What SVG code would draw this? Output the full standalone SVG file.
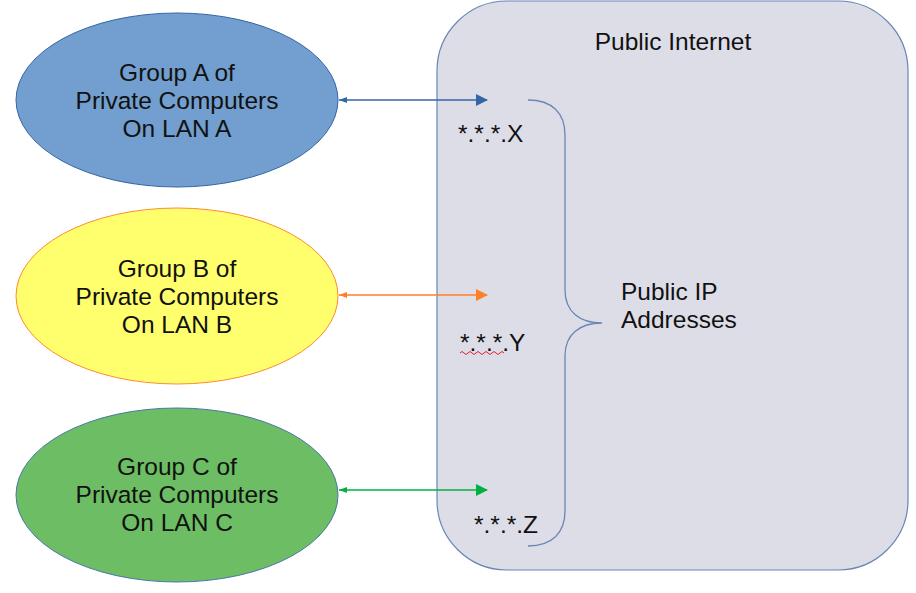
<svg xmlns="http://www.w3.org/2000/svg" width="916" height="593" viewBox="0 0 916 593">
<defs>
<style>
text{font-family:"Liberation Sans",Arial,sans-serif;font-size:24.5px;fill:#111}
.c{text-anchor:middle}
.conn{stroke-width:1.5;fill:none}
</style>
<marker id="hA" viewBox="0 0 12 12" refX="11" refY="6" markerWidth="12" markerHeight="12" markerUnits="userSpaceOnUse" orient="auto"><path d="M0,0 L12,6 L0,12 z" fill="#3465a4"/></marker>
<marker id="tA" viewBox="0 0 8 6" refX="0" refY="3" markerWidth="8" markerHeight="6" markerUnits="userSpaceOnUse" orient="auto"><path d="M0,3 L8,0 L8,6 z" fill="#3465a4"/></marker>
<marker id="hB" viewBox="0 0 12 12" refX="11" refY="6" markerWidth="12" markerHeight="12" markerUnits="userSpaceOnUse" orient="auto"><path d="M0,0 L12,6 L0,12 z" fill="#ff7f27"/></marker>
<marker id="tB" viewBox="0 0 8 6" refX="0" refY="3" markerWidth="8" markerHeight="6" markerUnits="userSpaceOnUse" orient="auto"><path d="M0,3 L8,0 L8,6 z" fill="#ff7f27"/></marker>
<marker id="hC" viewBox="0 0 12 12" refX="11" refY="6" markerWidth="12" markerHeight="12" markerUnits="userSpaceOnUse" orient="auto"><path d="M0,0 L12,6 L0,12 z" fill="#00b043"/></marker>
<marker id="tC" viewBox="0 0 8 6" refX="0" refY="3" markerWidth="8" markerHeight="6" markerUnits="userSpaceOnUse" orient="auto"><path d="M0,3 L8,0 L8,6 z" fill="#00b043"/></marker>
</defs>
<rect width="916" height="593" fill="#ffffff"/>
<g id="internet">
<rect x="437" y="1" width="471" height="569" rx="70" ry="70" fill="#dddde8" stroke="#6a86b4" stroke-width="1.2"/>
<text class="c" x="673" y="50">Public Internet</text>
</g>
<g id="groupA">
<ellipse cx="177" cy="100" rx="161" ry="87" fill="#729fcf" stroke="#3465a4" stroke-width="1"/>
<text class="c" x="177" y="81">Group A of</text>
<text class="c" x="177" y="109">Private Computers</text>
<text class="c" x="177" y="137">On LAN A</text>
</g>
<g id="groupB">
<ellipse cx="177" cy="296" rx="161" ry="88" fill="#ffff6d" stroke="#ff8a30" stroke-width="1"/>
<text class="c" x="177" y="277">Group B of</text>
<text class="c" x="177" y="305">Private Computers</text>
<text class="c" x="177" y="333">On LAN B</text>
</g>
<g id="groupC">
<ellipse cx="177" cy="495" rx="161" ry="87" fill="#6cbd63" stroke="#4a76a8" stroke-width="1"/>
<text class="c" x="177" y="475">Group C of</text>
<text class="c" x="177" y="503">Private Computers</text>
<text class="c" x="177" y="531">On LAN C</text>
</g>
<g id="addresses">
<text x="458" y="142">*.*.*.X</text>
<text x="460" y="351">*.*.*.Y</text>
<path d="M460,353 q2,-3 4,0 t4,0 t4,0 t4,0 t4,0 t4,0 t4,0 t4,0 t4,0 t4,0 t4,0" fill="none" stroke="#e8202a" stroke-width="1"/>
<text x="474" y="533">*.*.*.Z</text>
</g>
<g id="brace">
<path d="M528,100 C552,100 565,113 565,135 L565,290 C565,312 580,323 602,323 C580,323 565,334 565,356 L565,511 C565,533 552,546 528,546" fill="none" stroke="#6a86b4" stroke-width="1.3"/>
<text x="621" y="300">Public IP</text>
<text x="621" y="328">Addresses</text>
</g>
<g id="connectors">
<line class="conn" x1="339" y1="100" x2="487" y2="100" stroke="#3465a4" marker-start="url(#tA)" marker-end="url(#hA)"/>
<line class="conn" x1="339" y1="295" x2="487" y2="295" stroke="#ff7f27" marker-start="url(#tB)" marker-end="url(#hB)"/>
<line class="conn" x1="339" y1="490" x2="487" y2="490" stroke="#00b043" marker-start="url(#tC)" marker-end="url(#hC)"/>
</g>
</svg>
